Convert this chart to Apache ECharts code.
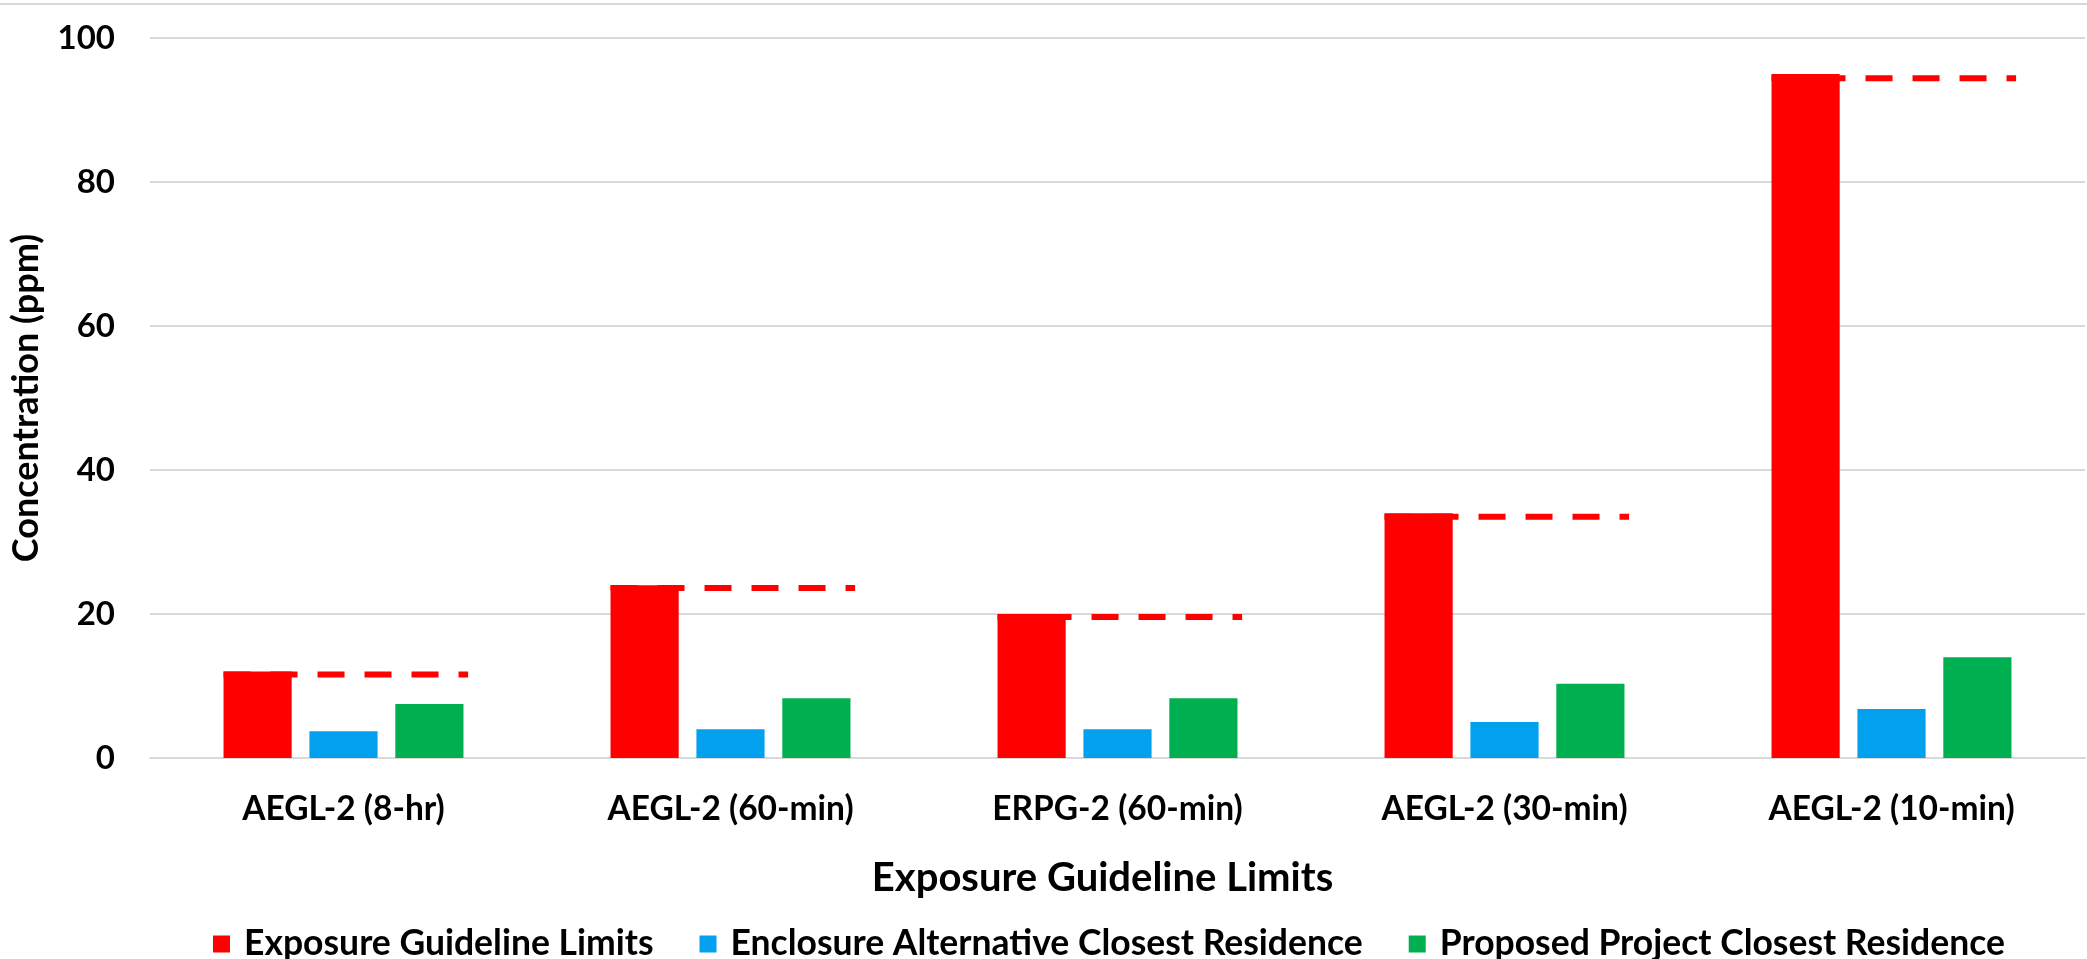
<!DOCTYPE html>
<html><head><meta charset="utf-8">
<script src="https://cdn.jsdelivr.net/npm/echarts@6/dist/echarts.min.js"></script>
<style>html,body{margin:0;padding:0;background:#fff}#c{width:2087px;height:959px}</style>
</head><body><div id="c"></div>
<script>
var categories = ['AEGL-2 (8-hr)', 'AEGL-2 (60-min)', 'ERPG-2 (60-min)', 'AEGL-2 (30-min)', 'AEGL-2 (10-min)'];
var guidelineLimits = [12, 24, 20, 34, 95];
var enclosureAlt = [3.7, 4.0, 4.0, 5.0, 6.8];
var proposedProject = [7.5, 8.3, 8.3, 10.3, 14.0];
var limitLines = [11.6, 23.6, 19.6, 33.5, 94.4];
var yTicks = [0, 20, 40, 60, 80, 100];

var FONT = 'Lato';
var chart = echarts.init(document.getElementById('c'));
chart.setOption({
  animation: false,
  textStyle: {fontFamily: FONT},
  grid: {left: 148, right: 2, top: 38, bottom: 201, containLabel: false},
  graphic: [{type: 'line', shape: {x1: 0, y1: 4, x2: 2087, y2: 4}, style: {stroke: '#d9d9d9', lineWidth: 2}}],
  legend: {
    top: 921, left: 208, itemWidth: 17, itemHeight: 17, itemGap: 46,
    icon: 'rect',
    textStyle: {fontFamily: FONT, fontWeight: 'bold', fontSize: 35.5, color: '#000', padding: [0, 0, 0, 9]},
    data: ['Exposure Guideline Limits', 'Enclosure Alternative Closest Residence', 'Proposed Project Closest Residence']
  },
  xAxis: {
    type: 'category', data: categories,
    name: 'Exposure Guideline Limits', nameLocation: 'middle', nameGap: 100,
    nameTextStyle: {fontFamily: FONT, fontWeight: 'bold', fontSize: 40, color: '#000', padding: [0, 30, 0, 0]},
    axisLine: {lineStyle: {color: '#d9d9d9', width: 2}},
    axisTick: {show: false},
    axisLabel: {fontFamily: FONT, fontWeight: 'bold', fontSize: 33.5, color: '#000', margin: 34}
  },
  yAxis: {
    type: 'value', min: 0, max: 100, interval: 20,
    name: 'Concentration (ppm)', nameLocation: 'middle', nameGap: 106, nameRotate: 90,
    nameTextStyle: {fontFamily: FONT, fontWeight: 'bold', fontSize: 36, color: '#000'},
    axisLine: {show: false}, axisTick: {show: false},
    splitLine: {lineStyle: {color: '#d9d9d9', width: 2}},
    axisLabel: {fontFamily: FONT, fontWeight: 'bold', fontSize: 33, color: '#000', margin: 35,
      formatter: function (v) { return yTicks.indexOf(v) >= 0 ? String(v) : ''; }}
  },
  series: [
    {name: 'Exposure Guideline Limits', type: 'bar', data: guidelineLimits, itemStyle: {color: '#FF0000'}, barGap: '26%', barCategoryGap: '38%'},
    {name: 'Enclosure Alternative Closest Residence', type: 'bar', data: enclosureAlt, itemStyle: {color: '#02A0EF'}},
    {name: 'Proposed Project Closest Residence', type: 'bar', data: proposedProject, itemStyle: {color: '#00B050'}},
    {
      type: 'custom', name: 'limitline', z: 5, silent: true,
      data: limitLines.map(function (v, i) { return [i, v]; }),
      renderItem: function (params, api) {
        var p = api.coord([api.value(0), api.value(1)]);
        var band = api.size([1, 0])[0];
        var x1 = p[0] - band * 0.31;
        var x2 = p[0] + band * 0.322;
        return {type: 'line', shape: {x1: x1, y1: p[1], x2: x2, y2: p[1]},
          style: {stroke: '#FF0000', lineWidth: 6, lineDash: [27, 20], lineCap: 'butt'}};
      }
    }
  ]
});
</script></body></html>
